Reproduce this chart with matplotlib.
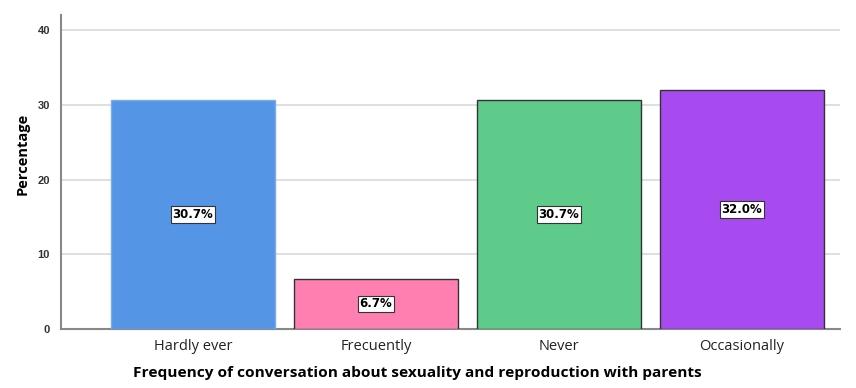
import matplotlib
matplotlib.use("Agg")
import matplotlib.pyplot as plt

categories = ["Hardly ever", "Frecuently", "Never", "Occasionally"]
values = [30.7, 6.7, 30.7, 32.0]
labels = ["30.7%", "6.7%", "30.7%", "32.0%"]
colors = ["#5595E5", "#FF80B0", "#5ECB8A", "#A74AF0"]
edges = ["#7AAEEB", "#333333", "#333333", "#333333"]
yticks = [0, 10, 20, 30, 40]

fig = plt.figure(figsize=(8.56, 3.88), dpi=100)
ax = fig.add_axes([0.0713, 0.152, 0.9097, 0.809])
x = list(range(len(categories)))
ax.bar(x, values, width=0.9, color=colors, edgecolor=edges, linewidth=1.0, zorder=3)
for xi, v, lab in zip(x, values, labels):
    ax.text(xi, v / 2, lab, ha="center", va="center", fontsize=8.5, fontweight="bold",
            family="DejaVu Sans", zorder=4,
            bbox=dict(boxstyle="square,pad=0.15", facecolor="white", edgecolor="#333333", linewidth=0.8))

ax.set_xlim(-0.721, 3.535)
ax.set_ylim(0, 42)
ax.set_yticks(yticks)
ax.set_yticklabels([str(t) for t in yticks], fontsize=8, fontweight="bold", family="Liberation Sans", color="#333333")
ax.set_xticks(x)
ax.set_xticklabels(categories, fontsize=10.5, family="Open Sans", color="#222222")
ax.tick_params(axis="both", length=0)
ax.tick_params(axis="y", pad=8)
ax.tick_params(axis="x", pad=7)
ax.yaxis.grid(True, color="#D9D9D9", linewidth=1.2, zorder=0)
ax.set_axisbelow(True)
for s in ["top", "right"]:
    ax.spines[s].set_visible(False)
for s in ["left", "bottom"]:
    ax.spines[s].set_color("#888888")
    ax.spines[s].set_linewidth(1.5)
ax.set_ylabel("Percentage", fontsize=10.5, fontweight="bold", family="Open Sans")
ax.yaxis.set_label_coords(-0.04, 0.557)
ax.set_xlabel("Frequency of conversation about sexuality and reproduction with parents",
              fontsize=11.1, fontweight="bold", family="Open Sans")
ax.xaxis.set_label_coords(0.458, -0.119)

fig.savefig("out.png", dpi=100)
